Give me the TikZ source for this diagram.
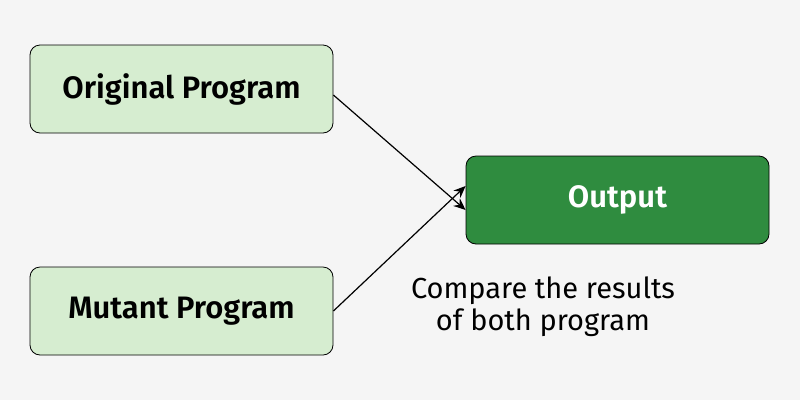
\documentclass[tikz,border=0pt]{standalone}
\usepackage{fontspec}
\setmainfont{Fira Sans}[BoldFont={Fira Sans SemiBold}]
\usetikzlibrary{arrows.meta}
\definecolor{bg}{HTML}{F5F5F5}
\definecolor{lg}{HTML}{D6EDD0}
\definecolor{dg}{HTML}{2F8C3F}
\begin{document}
\begin{tikzpicture}[x=1pt,y=-1pt,
  box/.style={draw=black, line width=0.8pt, rounded corners=10pt, minimum width=303pt, minimum height=88pt, font=\bfseries\fontsize{31}{36}\selectfont},
  arr/.style={-{Stealth[length=12pt,width=10pt]}, line width=1.2pt}]
\fill[bg] (0,0) rectangle (800,400);
\node[box, fill=lg] (orig) at (181.5,89) {Original Program};
\node[box, fill=lg] (mut) at (181.5,311) {Mutant Program};
\node[box, fill=dg, text=white] (out) at (617.5,200) {Output};
\draw[arr] (orig.east) ++(0,6) coordinate (a) (a) -- ([yshift=-10pt]out.west);
\draw[arr] (mut.east) -- ([yshift=14pt]out.west);
\node[font=\fontsize{29}{32}\selectfont, align=center] (cap) at (543,307) {Compare the results\\of both program};
\end{tikzpicture}
\end{document}
